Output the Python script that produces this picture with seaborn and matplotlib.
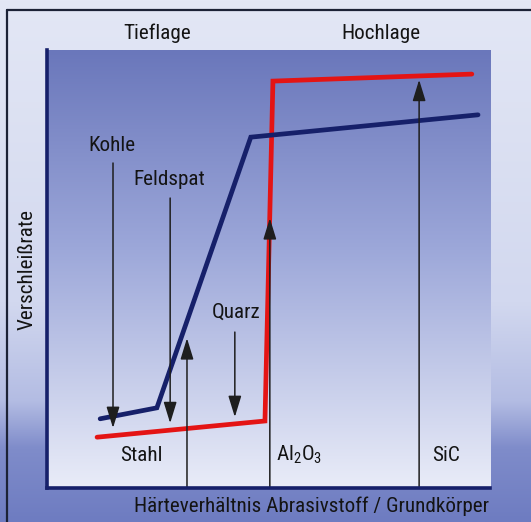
import numpy as np
import pandas as pd
import matplotlib
matplotlib.use("Agg")
import matplotlib.pyplot as plt
from matplotlib.colors import LinearSegmentedColormap
from matplotlib.lines import Line2D
import seaborn as sns

# ---------------- data (arbitrary units, 0..100) ----------------
blue_x = [12.0, 24.8, 46.0, 97.3]
blue_y = [15.8, 18.3, 80.1, 85.2]

red_x = [11.3, 49.2, 51.0, 95.9]
red_y = [11.6, 15.3, 92.9, 94.5]

# abrasives hitting the curves from above (downward arrows)
down_names = ["Kohle", "Feldspat", "Quarz"]
down_x = [14.9, 27.8, 42.4]
down_start = [74.2, 66.2, 35.6]
down_tip = [13.7, 14.8, 16.2]

# base bodies (upward arrows from the axis)
up_names = ["Stahl", "Al$_\\mathrm{2}$O$_\\mathrm{3}$", "SiC"]
up_x = [31.6, 50.3, 84.0]
up_tip = [34.2, 61.6, 93.2]

region_labels = ["Tieflage", "Hochlage"]
x_label = "Härteverhältnis Abrasivstoff / Grundkörper"
y_label = "Verschleißrate"

# ---------------- style ----------------
sns.set_theme(style="white")
main_font = "Roboto Condensed"
fs = 15.2
plt.rcParams["font.family"] = [main_font, "Liberation Sans", "DejaVu Sans"]
plt.rcParams["mathtext.fontset"] = "custom"
plt.rcParams["mathtext.rm"] = main_font
plt.rcParams["mathtext.it"] = main_font

W, H = 531, 522
fig = plt.figure(figsize=(W / 100, H / 100), dpi=100)

# outer background gradient (light top -> darker blue bottom)
bg = fig.add_axes([0, 0, 1, 1], zorder=0)
outer_cmap = LinearSegmentedColormap.from_list(
    "outer",
    [(0.0, "#e3e7f5"), (0.58, "#d2d8ef"), (0.77, "#b3bce3"),
     (0.86, "#7f8cca"), (1.0, "#6e7cc1")])
grad = np.linspace(0, 1, 256).reshape(-1, 1)
bg.imshow(grad, cmap=outer_cmap, aspect="auto", extent=[0, 1, 0, 1],
          origin="upper")
bg.set_xlim(0, 1)
bg.set_ylim(0, 1)
bg.axis("off")

# frame lines (left and top)
fig.add_artist(Line2D([7 / W, 7 / W], [0, 1 - 10 / H], color="#1c2236",
                      lw=1.6, transform=fig.transFigure))
fig.add_artist(Line2D([7 / W, 1], [1 - 10 / H, 1 - 10 / H], color="#1c2236",
                      lw=1.6, transform=fig.transFigure))

# main axes
x0, x1, y0, y1 = 47, 490, 50, 488
ax = fig.add_axes([x0 / W, 1 - y1 / H, (x1 - x0) / W, (y1 - y0) / H], zorder=1)
panel_cmap = LinearSegmentedColormap.from_list(
    "panel", [(0.0, "#6a77bb"), (0.45, "#9ca7d9"), (1.0, "#e9ecf8")])
ax.imshow(grad, cmap=panel_cmap, aspect="auto", extent=[0, 1, 0, 1],
          transform=ax.transAxes, origin="upper", zorder=0)

df_blue = pd.DataFrame({"x": blue_x, "y": blue_y})
df_red = pd.DataFrame({"x": red_x, "y": red_y})
sns.lineplot(data=df_red, x="x", y="y", sort=False, color="#e41414",
             lw=3.4, ax=ax, zorder=3, solid_joinstyle="miter")
sns.lineplot(data=df_blue, x="x", y="y", sort=False, color="#16206a",
             lw=3.4, ax=ax, zorder=3, solid_joinstyle="miter")

arrow_kw = dict(arrowstyle="-|>,head_length=0.65,head_width=0.2",
                color="#1e1e1e", lw=1.1, mutation_scale=20,
                shrinkA=0, shrinkB=0)
for xv, ys, yt in zip(down_x, down_start, down_tip):
    ax.annotate("", xy=(xv, yt), xytext=(xv, ys),
                arrowprops=arrow_kw, zorder=4)
for xv, yt in zip(up_x, up_tip):
    ax.annotate("", xy=(xv, yt), xytext=(xv, 0),
                arrowprops=arrow_kw, zorder=4)

ax.set_xlim(0, 100)
ax.set_ylim(0, 100)
ax.set_xticks([])
ax.set_yticks([])
ax.set_xlabel("")
ax.set_ylabel("")
for s in ["top", "right"]:
    ax.spines[s].set_visible(False)
for s in ["left", "bottom"]:
    ax.spines[s].set_color("#16206a")
    ax.spines[s].set_linewidth(2.6)
    ax.spines[s].set_zorder(5)

tc = "#141414"
tkw = dict(fontsize=fs, color=tc, va="baseline")
# labels for the abrasives
ax.text(14.7, 76.9, down_names[0], ha="center", **tkw)
ax.text(27.5, 69.2, down_names[1], ha="center", **tkw)
ax.text(42.7, 38.8, down_names[2], ha="center", **tkw)
# labels for base bodies
ax.text(21.4, 6.2, up_names[0], ha="center", **tkw)
ax.text(51.7, 6.2, up_names[1], ha="left", **tkw)
ax.text(90.1, 6.2, up_names[2], ha="center", **tkw)

# regions above plot
fig.text(157 / W, 1 - 39 / H, region_labels[0], ha="center", **tkw)
fig.text(381 / W, 1 - 39 / H, region_labels[1], ha="center", **tkw)
# axis titles
fig.text(311 / W, 1 - 512 / H, x_label, ha="center", **tkw)
fig.text(33 / W, 1 - 269 / H, y_label, ha="center", rotation=90,
         rotation_mode="anchor", **tkw)

fig.savefig("out.png", dpi=100)
